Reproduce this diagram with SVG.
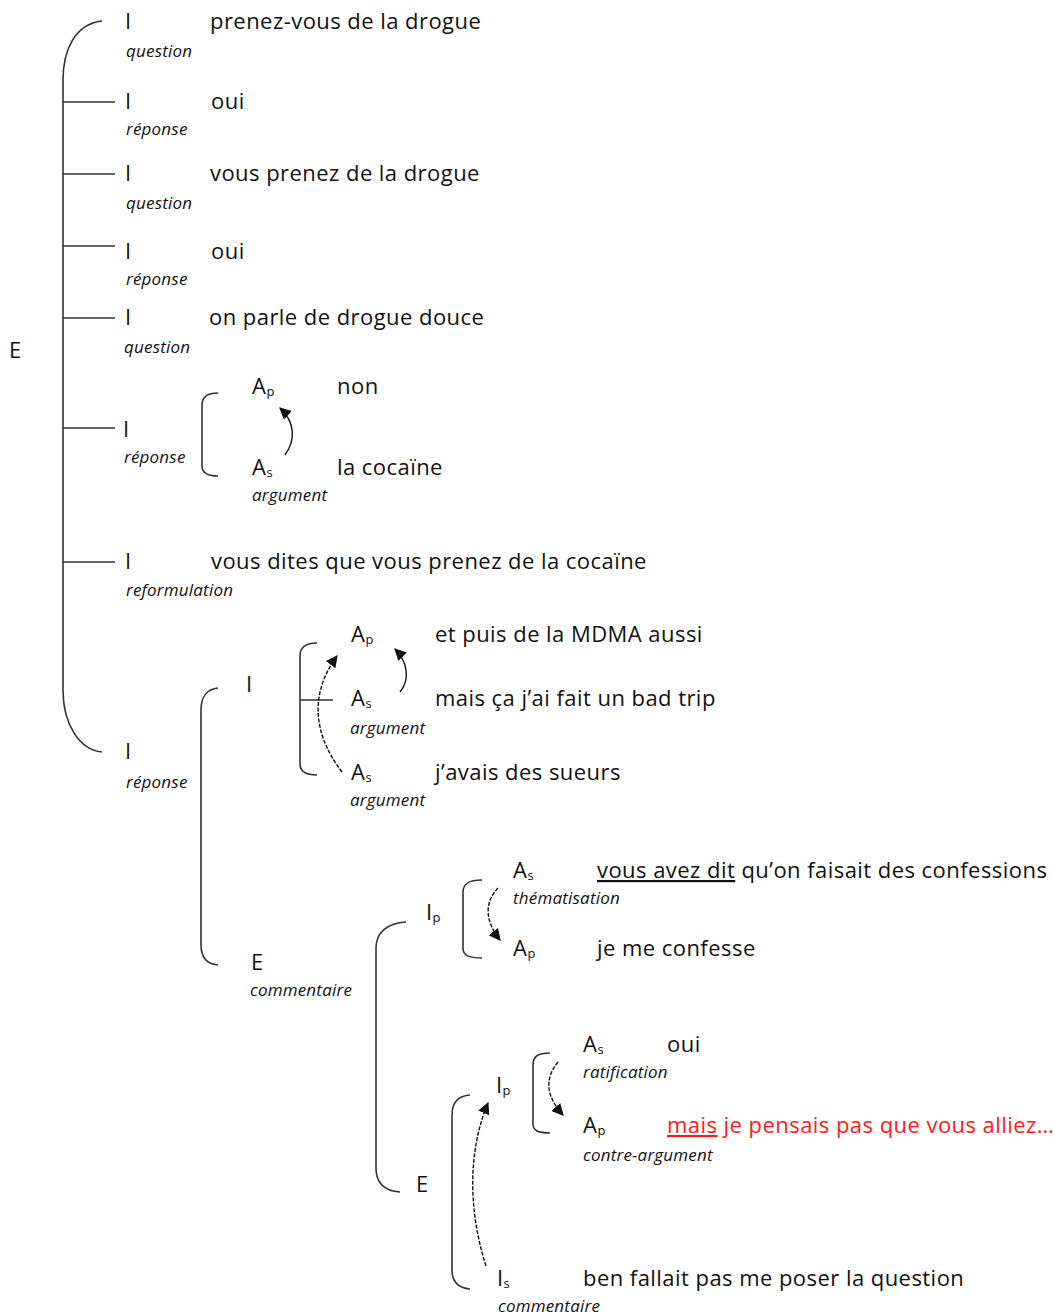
<svg xmlns="http://www.w3.org/2000/svg" width="1054" height="1315" viewBox="0 0 1054 1315">
<style>
.t{font-family:"Open Sans","Noto Sans",sans-serif;font-size:22px;letter-spacing:0.45px;fill:#111}
.l{font-family:"Open Sans","Noto Sans",sans-serif;font-style:italic;font-size:17px;letter-spacing:0.2px;fill:#111}
.sub{font-size:13px;letter-spacing:0}
.br{stroke:#333;stroke-width:1.6;fill:none}
.ar{stroke:#111;stroke-width:1.4;fill:none;marker-end:url(#ah)}
.ds{stroke-dasharray:4 1.5}
.red{fill:#ff1a1a}
</style>
<defs>
<marker id="ah" viewBox="0 0 10 10" refX="9" refY="5" markerWidth="12" markerHeight="12" markerUnits="userSpaceOnUse" orient="auto"><path d="M0,0 L10,5 L0,10 z" fill="#111"/></marker>
</defs>
<rect width="1054" height="1315" fill="#fff"/>
<g id="connectors">
<path class="br" d="M102,21 C75,24 63,50 63,80 L63,690 C63,725 80,750 102,752"/>
<path class="br" d="M63,102 H115 M63,174 H115 M63,246 H115 M63,318 H115 M63,428 H115 M63,562 H115"/>
<path class="br" d="M218,393 C206,393 202,398 202,405 L202,466 C202,472 206,476 218,476"/>
<path class="br" d="M218,688 C207,689 201,697 201,710 L201,945 C201,958 207,964 218,965"/>
<path class="br" d="M317,643 C305,643 300,648 300,656 L300,764 C300,771 305,775 317,775 M300,700 H333"/>
<path class="br" d="M406,922 C388,923 376,932 376,948 L376,1168 C376,1184 386,1191 400,1192"/>
<path class="br" d="M482,880 C468,880 463,884 463,892 L463,948 C463,955 468,958 482,958"/>
<path class="br" d="M550,1053 C537,1053 533,1057 533,1065 L533,1124 C533,1130 537,1133 550,1133"/>
<path class="br" d="M470,1095 C457,1096 452,1103 452,1115 L452,1270 C452,1282 458,1288 470,1289"/>
<path class="ar" d="M285,455 C296,440 295,422 280,408"/>
<path class="ar" d="M400,692 C410,680 408,662 395,649"/>
<path class="ar ds" d="M342,772 C310,730 312,690 337,656"/>
<path class="ar ds" d="M498,888 C485,902 484,920 500,940"/>
<path class="ar ds" d="M558,1062 C545,1078 545,1095 563,1115"/>
<path class="ar ds" d="M486,1266 C468,1210 468,1150 488,1103"/>
</g>
<g id="n-E"><text class="t" x="9" y="358">E</text></g>
<g id="n-I1"><text class="t" x="125" y="29">I</text><text class="t" x="210" y="29">prenez-vous de la drogue</text><text class="l" x="126" y="57">question</text></g>
<g id="n-I2"><text class="t" x="125" y="109">I</text><text class="t" x="211" y="109">oui</text><text class="l" x="126" y="135">réponse</text></g>
<g id="n-I3"><text class="t" x="125" y="181">I</text><text class="t" x="210" y="181">vous prenez de la drogue</text><text class="l" x="126" y="209">question</text></g>
<g id="n-I4"><text class="t" x="125" y="259">I</text><text class="t" x="211" y="259">oui</text><text class="l" x="126" y="285">réponse</text></g>
<g id="n-I5"><text class="t" x="125" y="325">I</text><text class="t" x="209" y="325">on parle de drogue douce</text><text class="l" x="124" y="353">question</text></g>
<g id="n-I6"><text class="t" x="123" y="437">I</text><text class="l" x="124" y="463">réponse</text></g>
<g id="n-I6-Ap"><text class="t" x="252" y="394">A<tspan class="sub" dy="2">p</tspan></text><text class="t" x="337" y="394">non</text></g>
<g id="n-I6-As"><text class="t" x="252" y="475">A<tspan class="sub" dy="2">s</tspan></text><text class="t" x="337" y="475">la cocaïne</text><text class="l" x="252" y="501">argument</text></g>
<g id="n-I7"><text class="t" x="125" y="569">I</text><text class="t" x="211" y="569">vous dites que vous prenez de la cocaïne</text><text class="l" x="126" y="596">reformulation</text></g>
<g id="n-I8"><text class="t" x="125" y="759">I</text><text class="l" x="126" y="788">réponse</text></g>
<g id="n-I8-I"><text class="t" x="246" y="692">I</text></g>
<g id="n-I8-Ap"><text class="t" x="351" y="642">A<tspan class="sub" dy="2">p</tspan></text><text class="t" x="435" y="642">et puis de la MDMA aussi</text></g>
<g id="n-I8-As1"><text class="t" x="351" y="706">A<tspan class="sub" dy="2">s</tspan></text><text class="t" x="435" y="706">mais ça j’ai fait un bad trip</text><text class="l" x="350" y="734">argument</text></g>
<g id="n-I8-As2"><text class="t" x="351" y="780">A<tspan class="sub" dy="2">s</tspan></text><text class="t" x="435" y="780">j’avais des sueurs</text><text class="l" x="350" y="806">argument</text></g>
<g id="n-E2"><text class="t" x="251" y="970">E</text><text class="l" x="250" y="996">commentaire</text></g>
<g id="n-Ip1"><text class="t" x="426" y="920">I<tspan class="sub" dy="2">p</tspan></text></g>
<g id="n-Ip1-As"><text class="t" x="513" y="878">A<tspan class="sub" dy="2">s</tspan></text><text class="t" x="597" y="878"><tspan text-decoration="underline">vous avez dit</tspan> qu’on faisait des confessions</text><text class="l" x="513" y="904">thématisation</text></g>
<g id="n-Ip1-Ap"><text class="t" x="513" y="956">A<tspan class="sub" dy="2">p</tspan></text><text class="t" x="597" y="956">je me confesse</text></g>
<g id="n-E3"><text class="t" x="416" y="1192">E</text></g>
<g id="n-Ip2"><text class="t" x="496" y="1093">I<tspan class="sub" dy="2">p</tspan></text></g>
<g id="n-Ip2-As"><text class="t" x="583" y="1052">A<tspan class="sub" dy="2">s</tspan></text><text class="t" x="667" y="1052">oui</text><text class="l" x="583" y="1078">ratification</text></g>
<g id="n-Ip2-Ap"><text class="t" x="583" y="1133">A<tspan class="sub" dy="2">p</tspan></text><text class="t red" x="667" y="1133"><tspan text-decoration="underline">mais</tspan> je pensais pas que vous alliez…</text><text class="l" x="583" y="1161">contre-argument</text></g>
<g id="n-Is"><text class="t" x="497" y="1286">I<tspan class="sub" dy="2">s</tspan></text><text class="t" x="583" y="1286">ben fallait pas me poser la question</text><text class="l" x="498" y="1312">commentaire</text></g>
</svg>
